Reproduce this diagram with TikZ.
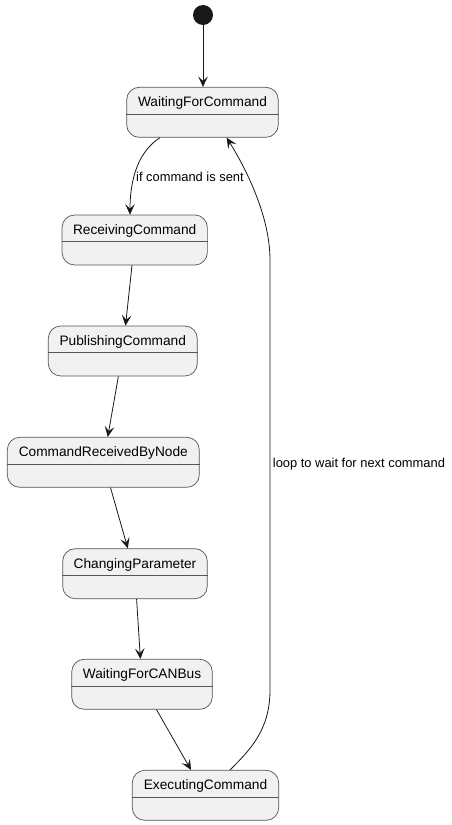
\documentclass[tikz,border=0pt]{standalone}
\usepackage{fontspec}
\setmainfont{Liberation Sans}
\usetikzlibrary{arrows.meta,calc}
\definecolor{statefill}{HTML}{F1F1F1}
\definecolor{lineclr}{HTML}{181818}
\definecolor{borderclr}{HTML}{555555}
\tikzset{
  statebox/.style={rectangle, rounded corners=12.5pt, draw=borderclr, fill=statefill, line width=0.7pt, minimum height=50pt, inner sep=0pt},
  statename/.style={font=\fontsize{13.7}{16}\selectfont, text=black, inner sep=0pt, anchor=base},
  divider/.style={draw=borderclr, line width=0.7pt},
  trans/.style={draw=lineclr, line width=0.8pt, -{Stealth[length=10.5pt,width=9.5pt,inset=4.5pt]}},
  edgelabel/.style={font=\fontsize{12.9}{15}\selectfont, inner sep=0pt, anchor=base west},
  initstate/.style={circle, fill=lineclr, minimum size=20pt, inner sep=0pt}
}
\begin{document}
\begin{tikzpicture}[x=1pt,y=-1pt]
\useasboundingbox (0,0) rectangle (451,825);
\fill[white] (0,0) rectangle (451,825);

\newcommand{\statenode}[5]{% name, cx, cy, width, text
  \node[statebox, minimum width=#4] (#1) at (#2,#3) {};
  \node[statename] (#1-t) at ($(#1.north)+(0,20)$) {#5};
  \draw[divider] ($(#1.north west)+(0,27)$) -- ($(#1.north east)+(0,27)$);
}

\node[initstate] (init) at (203,15) {};

\statenode{wfc}{202.5}{112.3}{151.6}{WaitingForCommand}
\statenode{rc}{134.7}{240}{145.3}{ReceivingCommand}
\statenode{pc}{122.8}{351}{149}{PublishingCommand}
\statenode{crbn}{103.3}{462.3}{192}{CommandReceivedByNode}
\statenode{cp}{135}{573.7}{144.6}{ChangingParameter}
\statenode{wcan}{142}{684.3}{140.6}{WaitingForCANBus}
\statenode{ec}{205.5}{795.3}{146.4}{ExecutingCommand}

\draw[trans] (init) -- (init |- wfc.north);
\draw[trans] ([xshift=-42.5pt]wfc.south) .. controls +(-22,14) and +(0,-35) .. ([xshift=-4.7pt]rc.north);
\node[edgelabel] (lblif) at (136,181) {if command is sent};
\draw[trans] (rc) -- (pc);
\draw[trans] (pc) -- (crbn);
\draw[trans] (crbn) -- (cp);
\draw[trans] (cp) -- (wcan);
\draw[trans] (wcan) -- (ec);
\coordinate (loopbot) at (270,690);
\coordinate (looptop) at (270,260);
\draw[trans] ([xshift=24.5pt]ec.north) .. controls +(20,-20) and +(0,40) .. (loopbot)
  -- (looptop) .. controls +(0,-40) and +(23.3,37.7) .. ([xshift=24.2pt]wfc.south);
\node[edgelabel] (lblloop) at (272.7,467) {loop to wait for next command};
\end{tikzpicture}
\end{document}
